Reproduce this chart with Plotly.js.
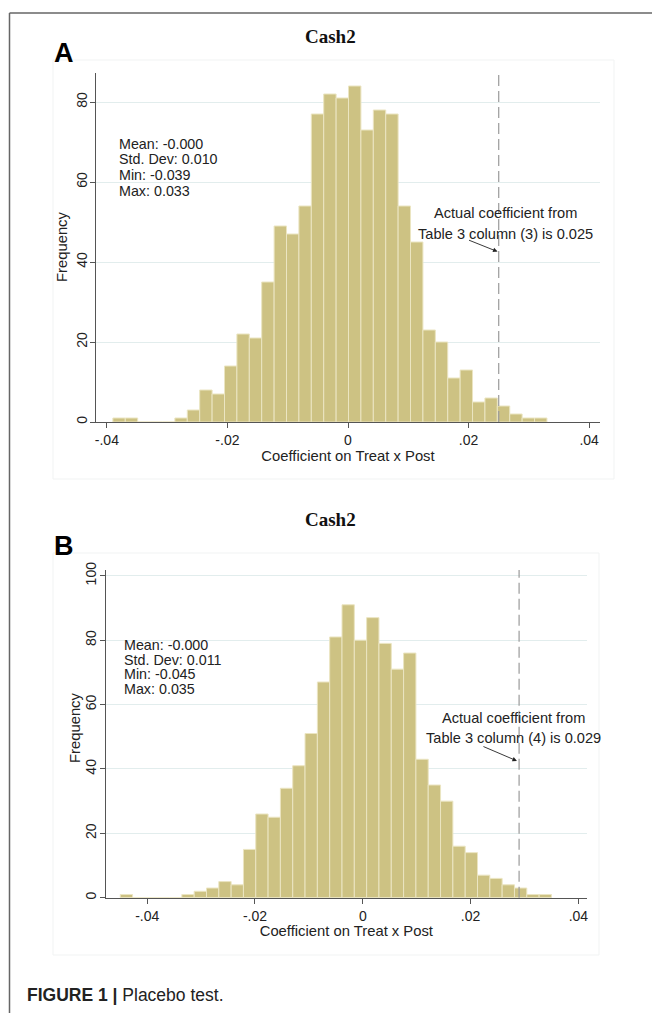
<!DOCTYPE html>
<html>
<head>
<meta charset="utf-8">
<script src="https://cdn.plot.ly/plotly-3.0.1.min.js"></script>
<style>
  html, body { margin: 0; padding: 0; background: #ffffff; }
  #chart { width: 652px; height: 1013px; }
</style>
</head>
<body>
<div id="chart"></div>
<script>
// ---------- Data ----------
// Panel A: placebo coefficients (Table 3 column 3), 35 bins from min to max
const minA = -0.039;
const maxA = 0.033;
const countsA = [1, 1, 0, 0, 0, 1, 3, 8, 7, 14, 22, 21, 35, 49, 47, 54, 77, 82, 81,
                 84, 73, 78, 77, 54, 45, 23, 20, 11, 13, 5, 6, 4, 2, 1, 1];
const actualA = 0.025;
const statsA = ["Mean: -0.000", "Std. Dev: 0.010", "Min: -0.039", "Max: 0.033"];
const noteA = ["Actual coefficient from", "Table 3 column (3) is 0.025"];

// Panel B: placebo coefficients (Table 3 column 4), 35 bins from min to max
const minB = -0.045;
const maxB = 0.035;
const countsB = [1, 0, 0, 0, 0, 1, 2, 3, 5, 4, 15, 26, 25, 34, 41, 51, 67, 81, 91,
                 80, 87, 79, 71, 76, 43, 35, 30, 16, 14, 7, 6, 4, 3, 1, 1];
const actualB = 0.029;
const statsB = ["Mean: -0.000", "Std. Dev: 0.011", "Min: -0.045", "Max: 0.035"];
const noteB = ["Actual coefficient from", "Table 3 column (4) is 0.029"];

const xTickVals = [-0.04, -0.02, 0, 0.02, 0.04];
const xTickText = ["-.04", "-.02", "0", ".02", ".04"];
const yTickValsA = [0, 20, 40, 60, 80];
const yTickValsB = [0, 20, 40, 60, 80, 100];
const panelTitle = "Cash2";
const xTitle = "Coefficient on Treat x Post";
const yTitle = "Frequency";

// ---------- Build ----------
function binCenters(mn, mx, counts) {
  const w = (mx - mn) / counts.length;
  return { w: w, x: counts.map((_, i) => mn + (i + 0.5) * w) };
}
const bA = binCenters(minA, maxA, countsA);
const bB = binCenters(minB, maxB, countsB);

const barColor = "#cdc283";
const barLine = "#ebe5c2";

const traces = [
  { type: "bar", x: bA.x, y: countsA, width: bA.w, xaxis: "x", yaxis: "y",
    marker: { color: barColor, line: { color: barLine, width: 1 } } },
  { type: "bar", x: bB.x, y: countsB, width: bB.w, xaxis: "x2", yaxis: "y2",
    marker: { color: barColor, line: { color: barLine, width: 1 } } }
];

const FONT = "Liberation Sans, Arial, sans-serif";
const axCol = "#555555";
const gridCol = "#e2eded";
const txtCol = "#222222";

function xaxisDef(domain, range, anchor) {
  return {
    domain: domain, range: range, anchor: anchor,
    tickvals: xTickVals, ticktext: xTickText,
    ticks: "outside", ticklen: 5, tickcolor: axCol, tickwidth: 1,
    showline: true, linecolor: axCol, linewidth: 1,
    showgrid: false, zeroline: false,
    tickfont: { family: FONT, size: 14, color: txtCol },
    title: { text: xTitle, font: { family: FONT, size: 14.8, color: txtCol }, standoff: 0 }
  };
}
function yaxisDef(domain, range, anchor, tv, lblOff) {
  return {
    domain: domain, range: range, anchor: anchor,
    tickvals: tv, tickangle: -90, ticklabelstandoff: lblOff,
    ticks: "outside", ticklen: 5, tickcolor: axCol, tickwidth: 1,
    showline: true, linecolor: axCol, linewidth: 1,
    showgrid: true, gridcolor: gridCol, gridwidth: 1, zeroline: false,
    tickfont: { family: FONT, size: 14, color: txtCol }
  };
}

const H = 1013, W = 652;
const px = v => v / W, py = v => 1 - v / H;
function txt(text, x, y, size, opts) {
  return Object.assign({
    text: text, x: px(x), y: py(y), xref: "paper", yref: "paper",
    xanchor: "center", yanchor: "middle",
    showarrow: false, font: { family: FONT, size: size, color: txtCol }
  }, opts || {});
}

const annotations = [
  // panel titles
  txt("<b>" + panelTitle + "</b>", 330, 37, 19, { font: { family: "Liberation Serif, Times New Roman, serif", size: 19, color: "#111" } }),
  txt("<b>" + panelTitle + "</b>", 330, 519, 19, { font: { family: "Liberation Serif, Times New Roman, serif", size: 19, color: "#111" } }),
  // panel letters
  txt("<b>A</b>", 63.5, 53, 27, { font: { family: FONT, size: 27, color: "#000" } }),
  txt("<b>B</b>", 63.5, 546, 27, { font: { family: FONT, size: 27, color: "#000" } }),
  // y axis titles
  txt(yTitle, 62, 247, 14.8, { textangle: -90 }),
  txt(yTitle, 75, 728, 14.8, { textangle: -90 }),
  // footer caption
  txt("<b>FIGURE 1 |</b> Placebo test.", 25, 995, 17.5, { xanchor: "left", font: { family: FONT, size: 17.5, color: "#222" } })
];
// stats boxes, one line each
statsA.forEach((s, i) => annotations.push(txt(s, 117, 143.5 + i * 15.8, 14.3, { xanchor: "left" })));
statsB.forEach((s, i) => annotations.push(txt(s, 122, 645 + i * 14.5, 14.3, { xanchor: "left" })));

// notes + arrows (data coordinates)
annotations.push(
  { text: noteA[0], x: 0.0262, y: (422 - 213) / 4, xref: "x", yref: "y", xanchor: "center", yanchor: "middle", showarrow: false, font: { family: FONT, size: 14.6, color: txtCol } },
  { text: noteA[1], x: 0.0262, y: (422 - 234) / 4, xref: "x", yref: "y", xanchor: "center", yanchor: "middle", showarrow: false, font: { family: FONT, size: 14.6, color: txtCol } },
  { text: noteB[0], x: 0.0280, y: (897.7 - 718) / 3.22, xref: "x2", yref: "y2", xanchor: "center", yanchor: "middle", showarrow: false, font: { family: FONT, size: 14.6, color: txtCol } },
  { text: noteB[1], x: 0.0280, y: (897.7 - 738) / 3.22, xref: "x2", yref: "y2", xanchor: "center", yanchor: "middle", showarrow: false, font: { family: FONT, size: 14.6, color: txtCol } },
  { text: "", x: actualA - 0.0002, y: 42.6, xref: "x", yref: "y", showarrow: true,
    ax: -30, ay: -12, arrowhead: 2, arrowsize: 1, arrowwidth: 0.9, arrowcolor: "#222" },
  { text: "", x: actualB - 0.0004, y: 42.5, xref: "x2", yref: "y2", showarrow: true,
    ax: -35, ay: -15, arrowhead: 2, arrowsize: 1, arrowwidth: 0.9, arrowcolor: "#222" }
);

const shapes = [
  // outer frame (top and left)
  { type: "line", xref: "paper", yref: "paper", x0: px(9.5), x1: 1, y0: py(13), y1: py(13), line: { color: "#666", width: 1.5 } },
  { type: "line", xref: "paper", yref: "paper", x0: px(9.5), x1: px(9.5), y0: py(13), y1: 0, line: { color: "#666", width: 1.5 } },
  // faint graph-region boxes
  { type: "rect", xref: "paper", yref: "paper", x0: px(53), x1: px(614), y0: py(479), y1: py(60), line: { color: "#f1f3f3", width: 1 }, layer: "below" },
  { type: "rect", xref: "paper", yref: "paper", x0: px(53), x1: px(599), y0: py(955), y1: py(553), line: { color: "#f1f3f3", width: 1 }, layer: "below" },
  // actual coefficient dashed lines
  { type: "line", xref: "x", yref: "y domain", x0: actualA, x1: actualA, y0: 0, y1: 1, line: { color: "#9a9a9a", width: 1.2, dash: "11px,5px" } },
  { type: "line", xref: "x2", yref: "y2 domain", x0: actualB, x1: actualB, y0: 0, y1: 1, line: { color: "#9a9a9a", width: 1.2, dash: "11px,5px" } }
];

const layout = {
  width: W, height: H,
  margin: { l: 0, r: 0, t: 0, b: 0 },
  paper_bgcolor: "#ffffff", plot_bgcolor: "#ffffff",
  showlegend: false, bargap: 0,
  font: { family: FONT, color: txtCol },
  xaxis: xaxisDef([96 / W, 600 / W], [-0.0418, 0.0418], "y"),
  yaxis: yaxisDef([(H - 422) / H, (H - 73) / H], [0, 87.25], "x", yTickValsA, -3),
  xaxis2: xaxisDef([105.7 / W, 587 / W], [-0.0477, 0.0416], "y2"),
  yaxis2: yaxisDef([(H - 897.7) / H, (H - 570) / H], [0, 101.8], "x2", yTickValsB, -2),
  annotations: annotations,
  shapes: shapes
};

Plotly.newPlot("chart", traces, layout, { displayModeBar: false, staticPlot: true });
</script>
</body>
</html>
